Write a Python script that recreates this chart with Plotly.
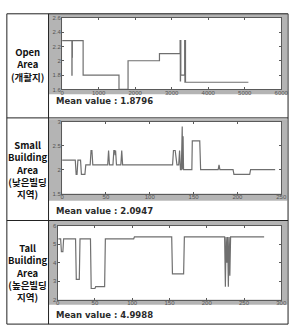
import plotly.graph_objects as go

W, H = 297, 333

# ---------------- data ----------------
open_x = [0, 265, 268, 272, 276, 280, 575, 1557, 1805, 2665, 3230, 3236, 3242, 3250, 3355, 3362, 3370, 3378, 5100]
open_y = [2.28, 2.28, 1.8, 2.28, 2.05, 2.28, 1.8, 1.6, 2.0, 2.1, 2.28, 1.72, 2.28, 1.8, 2.28, 1.7, 2.28, 1.7, 1.7]

small_x = [0, 15, 16, 17, 18, 21, 22, 26, 27, 32, 33, 34, 35, 52, 53, 54, 58, 59, 60, 60.5, 61, 62, 67, 68, 69,
           126, 127, 129, 131, 133, 134, 135, 136, 137, 137.5, 138, 138.5, 140, 148, 148.5, 157, 158,
           178, 179, 180, 195, 196, 214, 215, 243]
small_y = [2.2, 2.2, 1.9, 1.9, 2.2, 2.2, 1.9, 1.9, 2.1, 2.1, 2.4, 2.4, 2.1, 2.1, 2.4, 2.1, 2.1, 2.4, 2.4, 2.3, 2.4, 2.1, 2.1, 2.4, 2.1,
           2.1, 2.4, 2.4, 2.1, 2.1, 2.4, 2.0, 2.0, 2.9, 2.0, 2.7, 2.0, 2.0, 2.0, 2.6, 2.6, 2.0,
           2.0, 2.1, 2.0, 2.0, 1.9, 1.9, 2.0, 2.0]

tall_x = [1, 4, 5, 7, 8, 24, 25, 29, 30, 44, 45, 50, 51, 63, 64, 102, 103, 153, 154, 169, 170,
          224, 225, 226, 227, 228, 229, 230, 231, 232, 277]
tall_y = [5.3, 5.3, 4.6, 4.6, 5.3, 5.3, 3.1, 3.1, 5.3, 5.3, 2.6, 2.6, 2.7, 2.7, 5.3, 5.3, 5.4, 5.4, 3.4, 3.4, 5.4,
          5.4, 2.7, 5.4, 4.0, 5.4, 2.7, 5.4, 3.3, 5.4, 5.4]

open_xticks = [0, 1000, 2000, 3000, 4000, 5000, 6000]
open_xtext = ["0", "1000", "2000", "3000", "4000", "5000", "6000"]
open_yticks = [1.6, 1.8, 2.0, 2.2, 2.4, 2.6]
open_ytext = ["1.6", "1.8", "2", "2.2", "2.4", "2.6"]

small_xticks = [0, 50, 100, 150, 200, 250]
small_xtext = ["0", "50", "100", "150", "200", "250"]
small_yticks = [1.5, 2, 2.5, 3]
small_ytext = ["1.5", "2", "2.5", "3"]

tall_xticks = [0, 50, 100, 150, 200, 250, 300]
tall_xtext = ["0", "50", "100", "150", "200", "250", "300"]
tall_yticks = [2, 3, 4, 5, 6]
tall_ytext = ["2", "3", "4", "5", "6"]

row_labels = ["Open<br>Area<br>(개활지)",
              "Small<br>Building<br>Area<br>(낮은빌딩<br>지역)",
              "Tall<br>Building<br>Area<br>(높은빌딩<br>지역)"]
mean_labels = ["Mean value : 1.8796", "Mean value : 2.0947", "Mean value : 4.9988"]

# ---------------- helpers ----------------
def px(x):
    return x / W

def py(y):
    return 1 - y / H

LINE_COLOR = "#6f6f6f"
GRAY = "#b4b4b4"
fig = go.Figure()

# geometry (pixels)
plot_boxes = [(62, 288, 15, 88), (62, 288, 121, 194), (57.4, 288, 227, 302)]
gray_boxes = [(48.5, 294, 11, 92.7), (48.5, 294, 118.5, 201), (48.5, 294, 222, 307)]

# background layer (first subplot, full page, pixel coordinates) - gray frames
bx, by = [], []
def add_poly(x0, x1, y0, y1):
    bx.extend([x0, x1, x1, x0, x0, None])
    by.extend([y0, y0, y1, y1, y0, None])
for (gx0, gx1, gy0, gy1), (px0, px1, py0, py1) in zip(gray_boxes, plot_boxes):
    add_poly(gx0, gx1, gy0, py0)
    add_poly(gx0, gx1, py1, gy1)
    add_poly(gx0, px0, py0, py1)
    add_poly(px1, gx1, py0, py1)
fig.add_trace(go.Scatter(x=bx, y=by, mode="lines", fill="toself", fillcolor=GRAY,
                         line=dict(width=0.5, color=GRAY), xaxis="x", yaxis="y",
                         showlegend=False, hoverinfo="skip"))

series = [(open_x, open_y, "hv"), (small_x, small_y, "linear"), (tall_x, tall_y, "linear")]
for i, (xs, ys, shp) in enumerate(series):
    fig.add_trace(go.Scatter(x=xs, y=ys, mode="lines",
                             line=dict(color=LINE_COLOR, width=1.2, shape=shp),
                             xaxis=f"x{i+2}", yaxis=f"y{i+2}",
                             showlegend=False, hoverinfo="skip"))

ranges = [([0, 6000], [1.6, 2.6]), ([0, 250], [1.5, 3]), ([0, 300], [2, 6])]
xt = [(open_xticks, open_xtext), (small_xticks, small_xtext), (tall_xticks, tall_xtext)]
yt = [(open_yticks, open_ytext), (small_yticks, small_ytext), (tall_yticks, tall_ytext)]

tickfont = dict(family="Liberation Sans, Arial, sans-serif", size=6, color="#555555")
axis_common = dict(showline=True, linecolor="#5a5a5a", linewidth=1, mirror="ticks",
                   ticks="inside", ticklen=2, tickcolor="#5a5a5a", showgrid=False,
                   zeroline=False, tickfont=tickfont, fixedrange=True)

layout_axes = {
    "xaxis": dict(domain=[0, 1], range=[0, W], visible=False, fixedrange=True, anchor="y"),
    "yaxis": dict(domain=[0, 1], range=[H, 0], visible=False, fixedrange=True, anchor="x"),
}
for i in range(3):
    x0, x1, y0, y1 = plot_boxes[i]
    k = i + 2
    layout_axes[f"xaxis{k}"] = dict(domain=[px(x0), px(x1)], range=ranges[i][0], anchor=f"y{k}",
                                    tickvals=xt[i][0], ticktext=xt[i][1], ticklabelstandoff=-3, **axis_common)
    layout_axes[f"yaxis{k}"] = dict(domain=[py(y1), py(y0)], range=ranges[i][1], anchor=f"x{k}",
                                    tickvals=yt[i][0], ticktext=yt[i][1], ticklabelstandoff=-1, **axis_common)

shapes = []
border = dict(color="#222222", width=1)
shapes.append(dict(type="rect", xref="paper", yref="paper", x0=px(5), x1=px(295),
                   y0=py(327), y1=py(11), line=border, fillcolor="rgba(0,0,0,0)"))
shapes.append(dict(type="line", xref="paper", yref="paper", x0=px(48), x1=px(48),
                   y0=py(327), y1=py(11), line=border))
for yy in (117, 221.5):
    shapes.append(dict(type="line", xref="paper", yref="paper", x0=px(5), x1=px(295),
                       y0=py(yy), y1=py(yy), line=border))

annotations = []
label_centers = [63, 170, 274]
for lab, cy in zip(row_labels, label_centers):
    annotations.append(dict(text=lab, x=px(26.5), y=py(cy), xref="paper", yref="paper",
                            xanchor="center", yanchor="middle", showarrow=False, align="center",
                            font=dict(family="Liberation Sans Narrow, Noto Sans CJK KR, Arial, sans-serif",
                                      size=9.5, color="#111111", weight="bold")))
mean_y = [100, 212, 318]
for lab, my in zip(mean_labels, mean_y):
    annotations.append(dict(text="<b>" + lab + "</b>", x=px(54), y=py(my), xref="paper", yref="paper",
                            xanchor="left", yanchor="middle", showarrow=False,
                            font=dict(family="DejaVu Sans, Verdana, sans-serif", size=8.5, color="#2a2a2a")))

fig.update_layout(width=W, height=H, margin=dict(l=0, r=0, t=0, b=0),
                  paper_bgcolor="white", plot_bgcolor="white",
                  shapes=shapes, annotations=annotations, showlegend=False, **layout_axes)

fig.write_html("out.html", config={"displayModeBar": False})
